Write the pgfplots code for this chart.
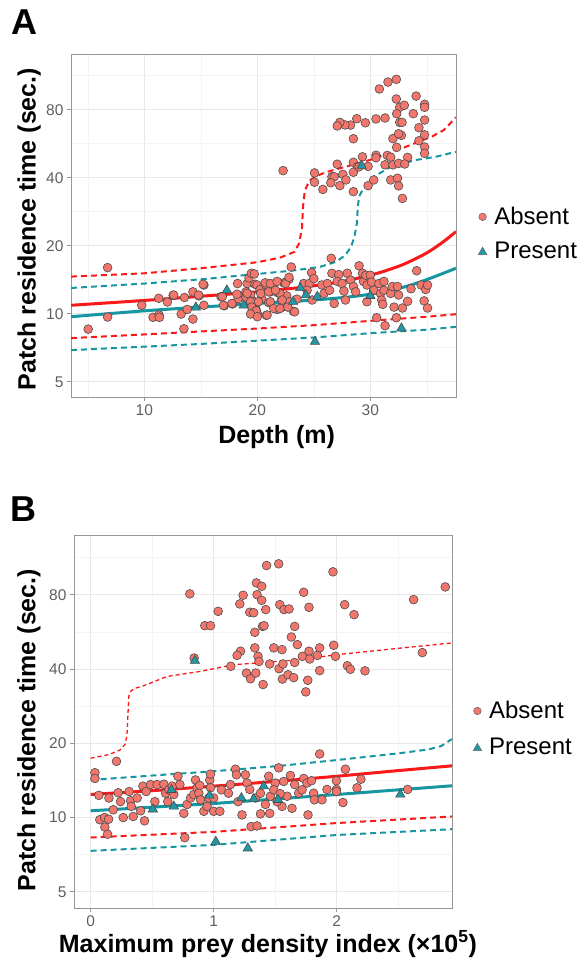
\documentclass[border=0pt]{standalone}
\usepackage{fontspec}
\setmainfont{Liberation Sans}
\usepackage{pgfplots}
\pgfplotsset{compat=1.18}
\definecolor{absentfill}{RGB}{242,118,108}
\definecolor{presentfill}{RGB}{34,152,166}
\definecolor{redline}{RGB}{250,24,24}
\definecolor{tealline}{RGB}{22,150,160}
\definecolor{gridmaj}{RGB}{232,232,232}
\definecolor{gridmin}{RGB}{244,244,244}
\definecolor{tickgray}{RGB}{95,95,95}
\definecolor{framegray}{RGB}{150,150,150}
\pgfplotsset{
 absent/.style={only marks, mark=*, mark size=4.4pt, mark options={fill=absentfill, draw=black!70, line width=0.6pt},
   legend image code/.code={\draw[fill=absentfill, draw=black!60, line width=0.5pt] (0pt,0pt) circle (3.8pt);
     \path (-3.8pt,0pt) (10.5pt,0pt);}},
 present/.style={only marks, mark=triangle*, mark size=5.4pt, mark options={fill=presentfill, draw=black!70, line width=0.6pt},
   legend image code/.code={\draw[fill=presentfill, draw=black!60, line width=0.5pt] (-4.2pt,-3.2pt) -- (4.2pt,-3.2pt) -- (0pt,4.2pt) -- cycle;
     \path (-3.8pt,0pt) (10.5pt,0pt);}},
 solidred/.style={redline, line width=3pt, no marks, forget plot},
 solidteal/.style={tealline, line width=3pt, no marks, forget plot},
 dashred/.style={redline, line width=2pt, no marks, dash pattern=on 6pt off 4pt, forget plot},
 dashteal/.style={tealline, line width=2pt, no marks, dash pattern=on 6pt off 4pt, forget plot},
}
\begin{document}
\begin{tikzpicture}
\path[use as bounding box] (0,0) rectangle (586pt,-963pt);
% ---------------- Panel A ----------------
\begin{axis}[
  scale only axis, ymode=log,
  at={(71pt,-397pt)}, anchor=south west,
  width=385pt, height=342pt,
  xmin=3.51, xmax=37.58,
  ymin=4.28, ymax=139.7,
  xtick={10,20,30}, minor xtick={5,15,25,35},
  ytick={5,10,20,40,80}, yticklabels={5,10,20,40,80},
  minor ytick={7.071,14.142,28.284,56.569,113.137},
  grid=both, major grid style={gridmaj, line width=0.9pt}, minor grid style={gridmin, line width=0.6pt},
  tick pos=left, tick align=outside, major tick length=4pt, minor tick length=0pt,
  tick style={framegray, line width=0.8pt},
  axis line style={framegray, line width=1pt},
  tick label style={font=\fontsize{15.5}{18}\selectfont, text=tickgray},
  label style={font=\fontsize{25}{30}\selectfont\bfseries},
  legend style={draw=none, fill=none, inner sep=0pt, font=\fontsize{24}{28}\selectfont, row sep=14pt, nodes={inner sep=1pt}, at={(1.057,0.477)}, anchor=west},
  legend cell align=left,
  xlabel={Depth (m)},
  ylabel={Patch residence time (sec.)},
  xlabel style={at={(axis description cs:0.534,0)}, anchor=base, yshift=-46pt},
  ylabel style={at={(axis description cs:-0.0917,0.491)}, anchor=base},
  /pgf/number format/assume math mode=true,
]
\addplot[dashred] coordinates {(3.51,14.6)(10,15.1)(15,15.9)(20,16.9)(22,17.7)(23.3,18.8)(23.7,20.5)(23.95,24)(24.05,30)(24.2,35)(24.6,38.8)(25.2,40.6)(26,42.2)(28,45)(30,48)(32,52)(34,57)(35.5,61)(36.5,65)(37.58,74)};
\addplot[dashteal] coordinates {(3.51,13.0)(10,13.6)(15,14.2)(20,15.0)(23,15.5)(25.5,16.1)(27,17.0)(27.8,18.2)(28.3,19.8)(28.6,22)(28.8,25)(28.9,30)(29.0,33)(29.3,35.3)(30.3,40.4)(31.8,44.7)(34,47.9)(35.8,49.5)(37.58,52.1)};
\addplot[dashred] coordinates {(3.51,7.8)(10,8.1)(15,8.35)(20,8.6)(25,8.9)(30,9.3)(35,9.7)(37.58,9.95)};
\addplot[dashteal] coordinates {(3.51,6.9)(10,7.15)(15,7.35)(20,7.6)(25,7.85)(30,8.2)(35,8.5)(37.58,8.75)};
\addplot[solidred, smooth] coordinates {(3.51,10.9)(10,11.45)(15,11.95)(20,12.5)(24,13.1)(27,13.75)(29,14.4)(31,15.3)(33,16.6)(35,18.6)(36.5,20.9)(37.58,23.1)};
\addplot[solidteal, smooth] coordinates {(3.51,9.7)(10,10.3)(15,10.7)(20,11.1)(25,11.5)(28,11.85)(30,12.2)(32,12.75)(34,13.6)(36,14.8)(37.58,15.9)};
\addplot[absent] coordinates {
(5.03,8.55)(6.75,16.0)(6.75,9.67)(9.77,10.9)(10.77,9.64)(11.28,11.7)(11.3,9.87)(11.33,9.64)(12.04,11.27)(12.55,12.06)(13.26,9.97)(13.5,8.58)(13.55,11.8)(13.8,10.45)(14.3,12.5)(14.3,9.47)(14.83,12.0)(15.27,13.4)(15.27,10.9)(16.78,11.9)(17.07,10.85)(17.8,11.04)(18.25,13.6)(18.3,11.65)(19.1,13.6)(19.26,14.4)(19.47,15.1)(19.73,15.0)(19.8,13.5)(19.0,12.5)(19.0,11.8)(19.4,12.1)(19.97,13.4)(20.24,12.8)(19.67,11.35)(19.8,10.7)(19.9,10.4)(20.0,10.0)(20.4,11.6)(20.8,9.84)(20.77,13.4)(21.0,11.2)(21.15,12.5)(21.36,13.5)(21.75,10.45)(21.8,12.4)(22.13,11.5)(22.33,13.7)(22.8,14.2)(23.0,16.1)(22.4,10.8)(22.13,10.65)(22.6,12.0)(22.8,11.3)(23.2,10.25)(23.5,11.6)
(20.7,13.7)(21.15,13.6)(21.75,13.9)(22.5,13.6)(22.8,14.5)(19.1,12.3)(20.3,12.3)(21.0,12.5)(22.0,12.3)(19.4,11.3)(20.1,11.3)(21.15,11.3)(22.2,11.5)(19.5,10.7)(19.9,10.3)(20.86,9.87)(21.45,10.55)(22.0,10.55)(22.7,10.7)(23.3,10.2)(21.6,12.7)(18.2,12.2)(17.75,11.1)(17.0,10.9)(16.9,11.9)(15.2,13.5)(14.8,12.1)(12.6,12.1)(19.4,9.97)(20.0,9.7)
(26.54,17.6)(24.8,15.2)(24.1,13.6)(24.6,13.6)(25.0,14.3)(24.4,12.7)(24.85,11.5)(25.7,13.4)(25.9,12.3)(26.2,13.6)(26.4,12.7)(26.6,15.1)(26.8,11.1)(27.2,14.9)(27.07,13.9)(27.5,13.6)(27.66,12.6)(27.8,11.5)(27.96,15.1)(28.25,14.1)(28.5,13.2)(28.7,12.5)(29.0,16.3)(29.3,15.1)(29.4,13.9)(29.6,14.8)(29.7,13.4)(30.0,14.8)(30.1,13.8)(29.7,11.3)(30.3,12.7)(30.76,13.6)(30.9,12.3)(31.2,13.9)(31.2,12.7)(31.8,12.3)(31.95,13.2)(32.4,13.2)(32.5,12.1)(32.1,10.7)(32.84,10.6)(33.3,11.35)(30.56,9.6)(31.3,8.85)(32.3,9.6)(33.6,12.9)(34.1,15.5)(34.5,13.4)(34.9,12.8)(35.06,13.4)(34.76,11.4)(35.06,10.6)(31.0,11.5)(31.1,11.0)
(22.28,43.0)(32.3,109)(31.56,106)(30.8,98.8)(32.3,89.2)(34.05,91.9)(32.6,82)(33.0,83.7)(34.8,84.5)(34.8,82)(32.33,76.8)(33.8,76.8)(34.8,72)(32.6,70.3)(32.8,70.3)(30.5,72.8)(31.3,73.5)(29.56,70)(28.8,73)(28.25,68.4)(27.75,68.5)(27.3,70.3)(27.07,67.8)(34.3,66.6)(28.5,59.5)(32.0,59.6)(32.75,61.6)(32.5,62.6)(34.8,61.9)(34.3,58.3)(32.33,54.5)(34.8,54.7)(34.8,51.3)(29.3,49.5)(30.5,50.3)(31.5,50.2)(31.8,49.3)(33.3,49.2)(27.07,45.9)(28.5,46.8)(28.85,44.7)(29.8,44.9)(30.5,49.0)(31.3,45.6)(32.0,45.6)(32.5,46.3)(33.04,46.0)(25.06,42)(25.06,38.2)(25.8,35.5)(26.6,40.4)(26.8,40.4)(26.5,38)(27.3,36.9)(27.57,41.4)(27.84,39.1)(28.5,42.3)(28.5,34.7)(29.8,36.9)(30.3,39.1)(31.8,39.1)(32.4,39.8)(32.5,36.8)(32.84,32.4)(29.0,44.7)
};
\addlegendentry{Absent}
\addplot[present] coordinates {(14.56,10.67)(17.3,12.7)(18.8,10.9)(23.16,11.3)(23.8,13.0)(24.3,12.1)(25.3,11.9)(30.0,12.0)(32.75,8.62)(25.1,7.52)(29.23,45.2)};
\addlegendentry{Present}
\end{axis}
% ---------------- Panel B ----------------
\begin{axis}[
  scale only axis, ymode=log,
  at={(74pt,-908pt)}, anchor=south west,
  width=378pt, height=373pt,
  xmin=-0.135, xmax=2.936,
  ymin=4.3, ymax=139.6,
  xtick={0,1,2}, minor xtick={0.5,1.5,2.5},
  ytick={5,10,20,40,80}, yticklabels={5,10,20,40,80},
  minor ytick={7.071,14.142,28.284,56.569,113.137},
  grid=both, major grid style={gridmaj, line width=0.9pt}, minor grid style={gridmin, line width=0.6pt},
  tick pos=left, tick align=outside, major tick length=4pt, minor tick length=0pt,
  tick style={framegray, line width=0.8pt},
  axis line style={framegray, line width=1pt},
  tick label style={font=\fontsize{15.5}{18}\selectfont, text=tickgray},
  label style={font=\fontsize{25}{30}\selectfont\bfseries},
  legend style={draw=none, fill=none, inner sep=0pt, font=\fontsize{24}{28}\selectfont, row sep=16pt, nodes={inner sep=1pt}, at={(1.055,0.48)}, anchor=west},
  legend cell align=left,
  xlabel={Maximum prey density index (×10\textsuperscript{5})},
  ylabel={Patch residence time (sec.)},
  xlabel style={at={(axis description cs:0.513,0)}, anchor=base, yshift=-44pt},
  ylabel style={at={(axis description cs:-0.102,0.477)}, anchor=base},
  /pgf/number format/assume math mode=true,
]
\addplot[redline, line width=1.3pt, no marks, dash pattern=on 4pt off 3pt, forget plot] coordinates {(0,17.4)(0.15,18.0)(0.24,18.8)(0.28,19.8)(0.295,21.5)(0.30,24)(0.305,27.3)(0.31,31)(0.33,32.7)(0.37,33.5)(0.43,34.2)(0.62,37.3)(0.89,39.1)(1.16,41.6)(1.7,43.6)(2.0,45.7)(2.5,48.5)(2.936,51.0)};
\addplot[dashteal] coordinates {(0,14.2)(0.5,14.8)(1,15.4)(1.54,16.2)(2,17.1)(2.5,18.2)(2.75,18.9)(2.85,19.5)(2.936,20.8)};
\addplot[dashred] coordinates {(0,8.3)(1,8.75)(2,9.5)(2.936,10.1)};
\addplot[dashteal] coordinates {(0,7.33)(1,7.75)(2,8.5)(2.936,8.97)};
\addplot[solidred] coordinates {(0,12.4)(0.5,12.85)(1,13.4)(1.5,14.0)(2,14.7)(2.5,15.5)(2.936,16.2)};
\addplot[solidteal] coordinates {(0,10.65)(1,11.4)(2,12.4)(2.936,13.45)};
\addplot[absent] coordinates {
(0.035,15.2)(0.035,14.4)(0.21,16.9)(0.067,12.3)(0.075,9.8)(0.114,10.0)(0.146,9.85)(0.116,9.14)(0.138,8.56)(0.149,12.0)(0.184,10.75)(0.224,12.6)(0.243,11.6)(0.265,10.0)(0.313,12.75)(0.325,11.7)(0.33,11.1)(0.346,10.1)(0.378,12.0)(0.406,10.65)(0.425,13.4)(0.438,9.7)(0.451,12.75)(0.487,13.6)(0.522,11.6)(0.54,13.6)(0.595,13.65)(0.609,12.55)(0.627,11.6)(0.636,12.95)(0.663,13.4)(0.676,12.4)(0.709,14.7)(0.725,13.6)(0.757,10.4)(0.784,11.3)(0.812,12.0)(0.838,12.4)(0.852,14.2)(0.865,13.2)(0.887,13.5)(0.879,12.55)(0.893,11.8)(0.92,10.6)(0.946,11.1)(0.96,12.0)(0.968,14.2)(0.974,15.0)(0.974,13.2)(1.0,12.0)(1.0,10.6)(1.05,10.6)(1.063,12.95)(1.12,12.55)(1.136,13.6)(1.177,15.7)(1.185,14.9)(1.198,11.6)(1.23,10.25)(1.258,14.9)(1.271,13.8)(1.293,13.0)(1.304,9.19)(1.352,9.25)(1.34,12.0)(1.38,12.55)
(1.42,11.3)(1.447,14.7)(1.461,12.2)(1.50,13.8)(1.528,15.9)(1.488,12.95)(1.555,11.1)(1.569,14.0)(1.596,12.2)(1.623,14.8)(1.636,10.9)(1.658,13.6)(1.69,12.55)(1.718,12.95)(1.731,14.4)(1.758,13.8)(1.794,14.1)(1.812,12.55)(1.818,11.8)(1.861,18.1)(1.88,11.8)(1.92,13.0)(1.997,14.1)(1.997,13.0)(2.05,11.5)(2.07,15.7)(2.164,13.2)(2.196,14.3)(2.576,13.0)(0.765,8.29)(1.54,12.5)(1.455,10.4)(1.515,11.6)(1.38,10.35)(1.766,10.25)(1.997,12.75)
(0.806,80.6)(1.036,68.5)(0.928,59.9)(0.974,59.9)(1.212,73.4)(1.239,79.6)(1.293,67.9)(1.325,67.6)(1.347,89.3)(1.352,80.0)(1.39,86.5)(1.39,75.9)(1.43,105)(1.528,106.7)(1.423,69.6)(1.537,72.9)(1.571,69.6)(1.612,70.0)(1.396,59.5)(1.409,59.9)(1.334,56.3)(1.658,59.5)(1.631,53.9)(1.68,50.2)(1.334,48.7)(1.218,47.2)(1.19,45.4)(1.36,45.0)(1.368,42.9)(1.488,48.7)(1.555,47.9)(1.455,41.9)(1.531,40.1)(1.563,41.9)(1.658,42.5)(1.266,38.5)(1.299,36.5)(1.342,38.5)(1.401,34.6)(1.558,36.4)(1.604,37.9)(1.65,36.9)(1.139,41.0)(0.841,44.3)(1.969,99)(2.881,86)(2.624,76.4)(1.731,81.8)(1.774,71.1)(2.064,72.9)(2.14,66.4)(1.975,49.9)(1.861,48.7)(1.774,47.2)(1.72,45.0)(1.78,43.9)(1.842,45.4)(1.989,45.0)(1.861,39.4)(2.086,41.2)(2.11,39.9)(2.229,39.3)(1.764,36.0)(1.748,32.3)(2.695,46.6)
};
\addlegendentry{Absent}
\addplot[present] coordinates {(0.657,12.95)(0.506,10.8)(0.676,11.1)(0.966,12.3)(1.225,12.0)(1.325,11.9)(1.407,13.4)(1.523,11.8)(2.516,12.4)(1.017,7.99)(1.277,7.51)(0.847,43.2)};
\addlegendentry{Present}
\end{axis}
\node[anchor=base west, inner sep=0pt, font=\fontsize{36}{40}\selectfont\bfseries] at (11.7pt,-35pt) {A};
\node[anchor=base west, inner sep=0pt, font=\fontsize{36}{40}\selectfont\bfseries] at (10pt,-521.7pt) {B};
\end{tikzpicture}
\end{document}
